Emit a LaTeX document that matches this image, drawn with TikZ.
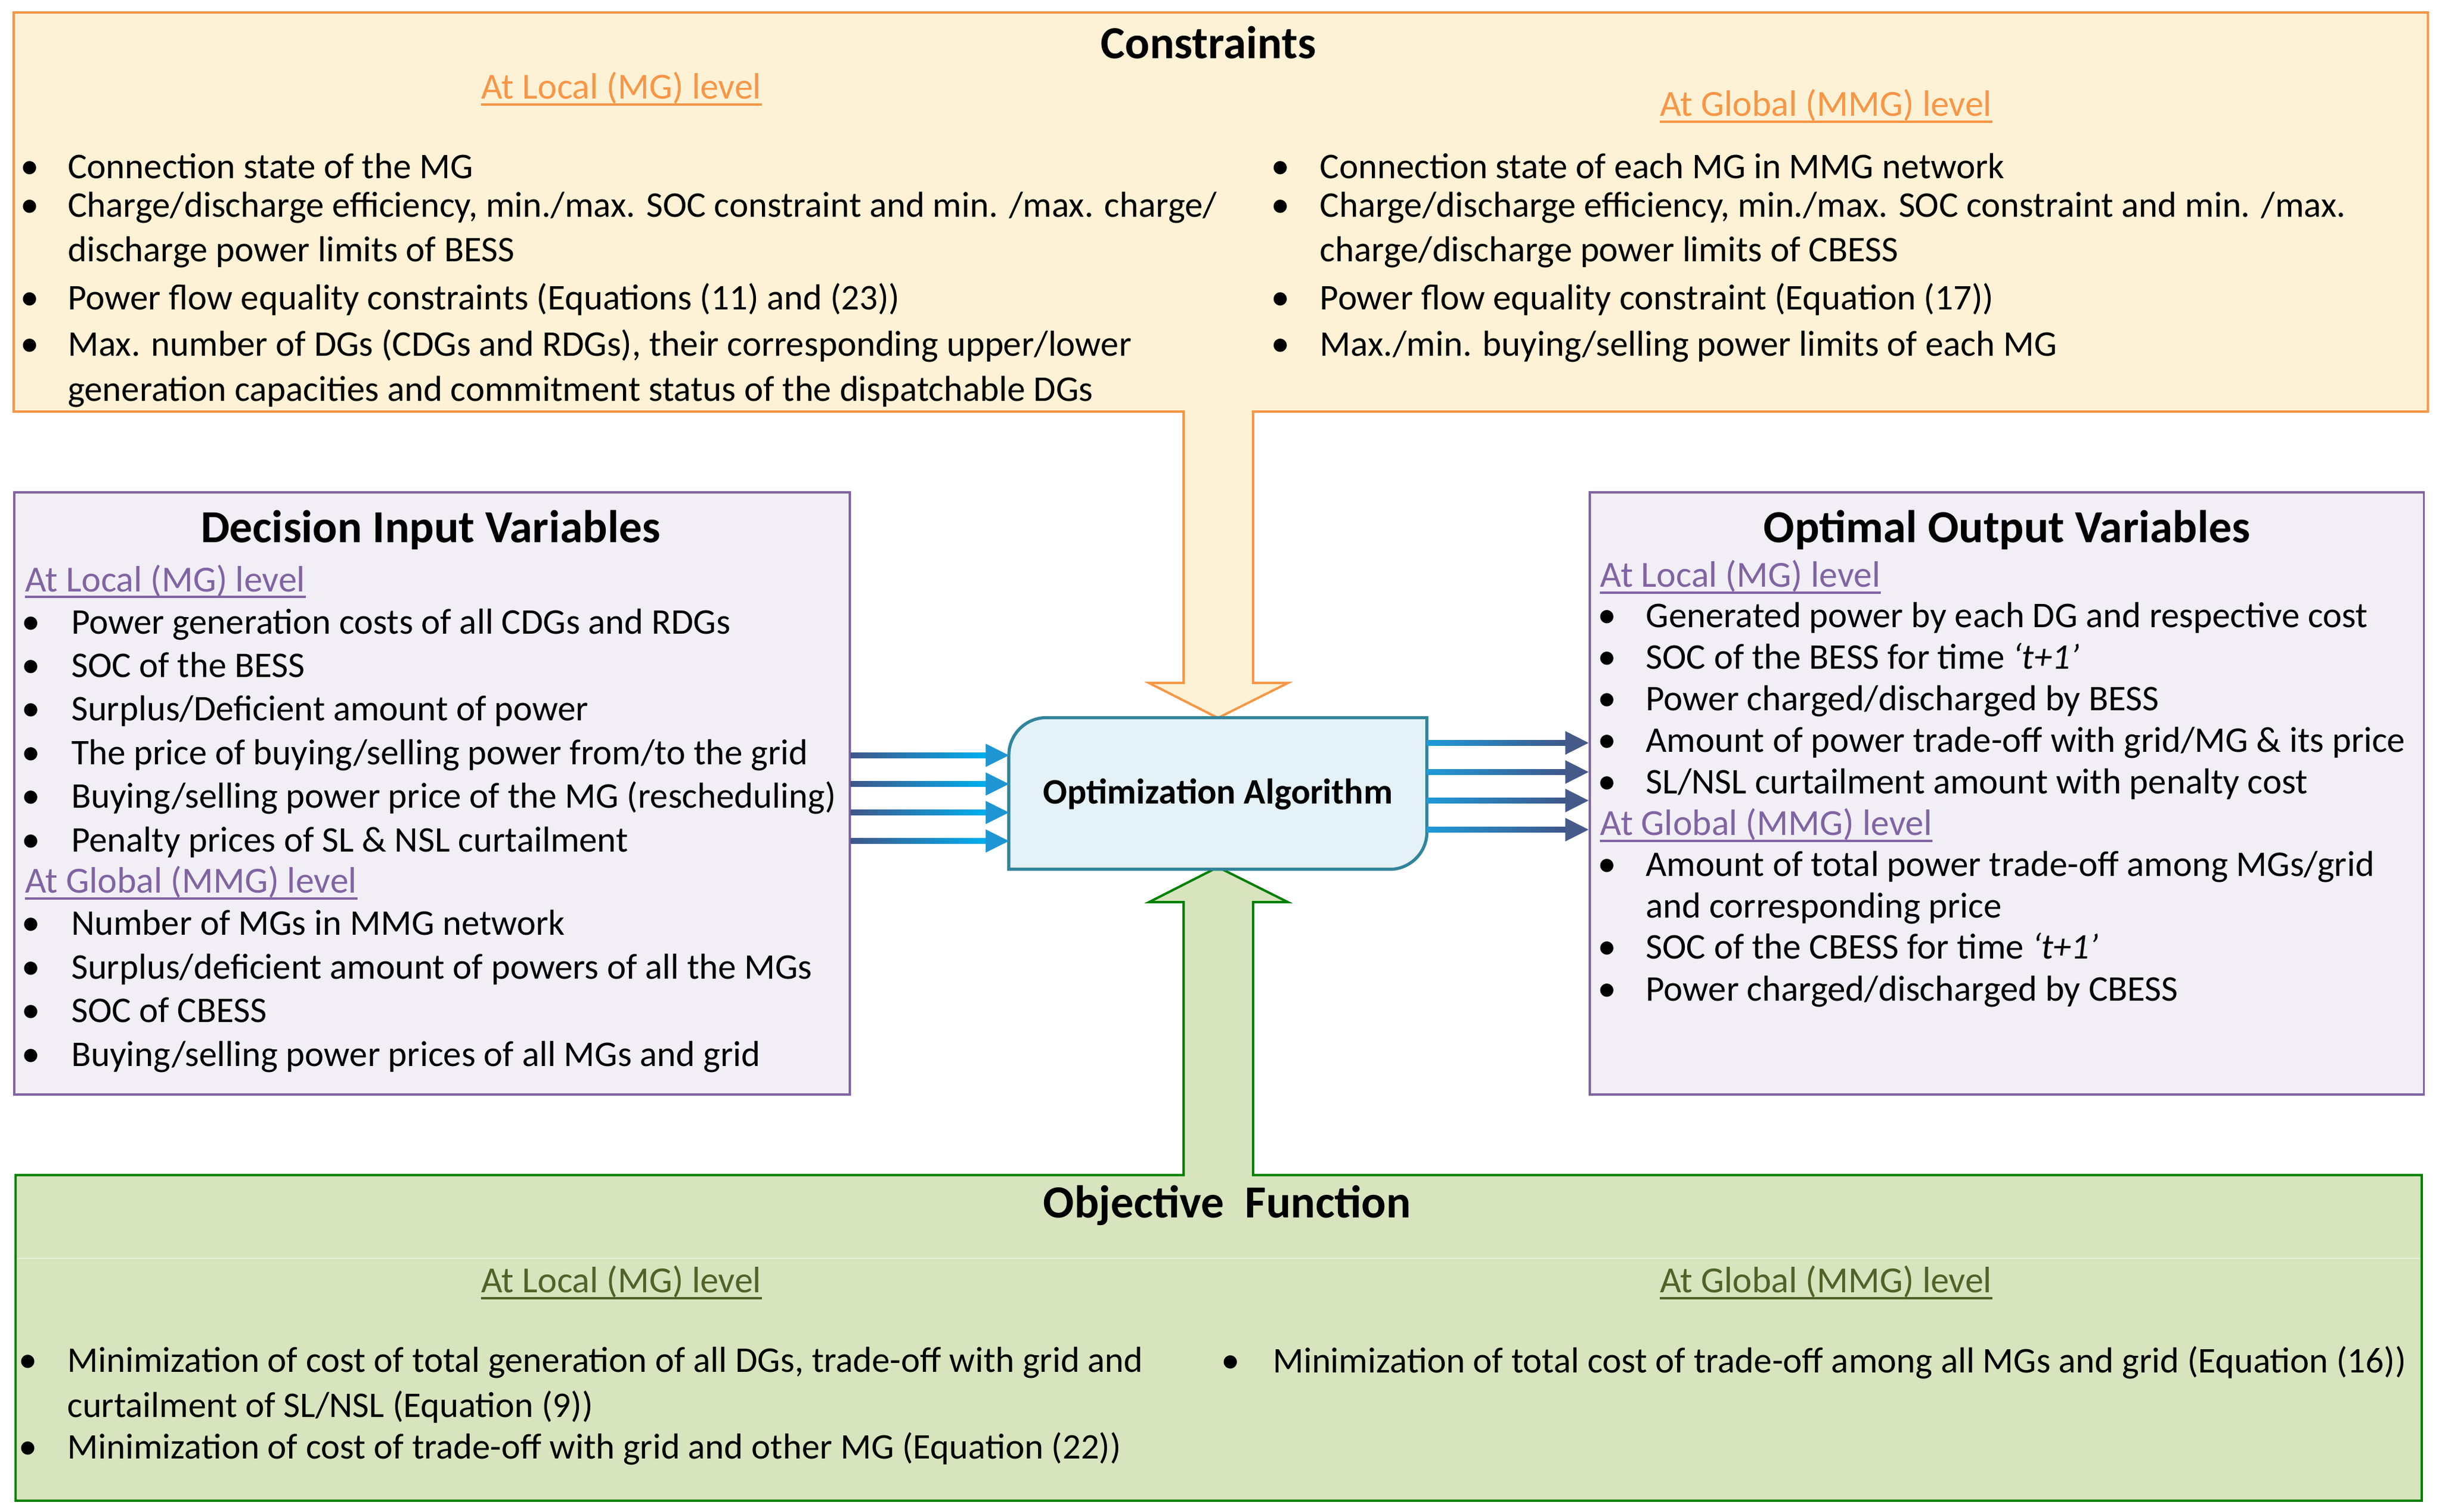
\documentclass[tikz,border=0pt]{standalone}
\usepackage{fontspec}
\setmainfont{Carlito}
\definecolor{conFill}{HTML}{FEF2D6}
\definecolor{conLine}{HTML}{F79646}
\definecolor{varFill}{HTML}{F1EEF6}
\definecolor{varLine}{HTML}{8064A2}
\definecolor{objFill}{HTML}{D7E4BD}
\definecolor{objLine}{HTML}{008000}
\definecolor{objHead}{HTML}{4F6228}
\definecolor{optFill}{HTML}{E4F2F7}
\definecolor{optLine}{HTML}{31849B}
\definecolor{arrDark}{HTML}{3F5689}
\definecolor{arrCyan}{HTML}{00B0F0}
\definecolor{arrHeadL}{HTML}{1E96D4}
\definecolor{arrHeadR}{HTML}{465A8A}
\definecolor{arrLight}{HTML}{1F9AD8}
\tikzset{
  body/.style={font=\fontsize{23.2}{28}\selectfont, inner sep=0pt, anchor=base west},
  bul/.style={font=\fontsize{24}{28}\selectfont, inner sep=0pt, anchor=base},
  ttl/.style={font=\bfseries\fontsize{29.5}{34}\selectfont, inner sep=0pt, anchor=base},
  subhd/.style={font=\fontsize{23.6}{28}\selectfont, inner sep=0pt},
  varbox/.style={draw=varLine, fill=varFill, line width=1.5pt, inner sep=0pt, anchor=north west},
  uline/.style={line width=1.5pt},
}
\newcommand\subul[2]{\draw[uline,#2] ([yshift=-3.6pt]#1.base west) -- ([yshift=-3.6pt]#1.base east);}
\begin{document}
\begin{tikzpicture}[x=1pt,y=-1pt]
\useasboundingbox (0,0) rectangle (1568,970.5);

% ---------- Constraints box with down arrow
\path[draw=conLine, fill=conFill, line width=1.5pt, line join=miter]
  (8.7,8) -- (1559,8) -- (1559,264.3) -- (804.6,264.3) -- (804.6,438.5) -- (827,438.5)
  -- (782,461) -- (737.7,438.5) -- (760,438.5) -- (760,264.3) -- (8.7,264.3) -- cycle;
\node[ttl] (ctitle) at (776,37.6) {Constraints};
\node[subhd, text=conLine, anchor=base] (cloc) at (399,63.5) {At Local (MG) level};
\subul{cloc}{conLine}
\node[subhd, text=conLine, anchor=base] (cglo) at (1172.5,74.4) {At Global (MMG) level};
\subul{cglo}{conLine}
\node[bul] (cb1) at (19,114.7) {•};
\node[body] (ct1) at (43.4,114.7) {Connection state of the MG};
\node[bul] (cb2) at (19,139.2) {•};
\node[body] (ct2) at (43.4,139.2) {Charge/discharge efficiency, min./max. SOC constraint and min. /max. charge/};
\node[body] (ct3) at (43.4,168) {discharge power limits of BESS};
\node[bul] (cb4) at (19,198.7) {•};
\node[body] (ct4) at (43.4,198.7) {Power flow equality constraints (Equations (11) and (23))};
\node[bul] (cb5) at (19,228.5) {•};
\node[body] (ct5) at (43.4,228.5) {Max. number of DGs (CDGs and RDGs), their corresponding upper/lower};
\node[body] (ct6) at (43.4,257.4) {generation capacities and commitment status of the dispatchable DGs};
\node[bul] (cr1b) at (822,114.7) {•};
\node[body] (cr1) at (847.4,114.7) {Connection state of each MG in MMG network};
\node[bul] (cr2b) at (822,139.2) {•};
\node[body] (cr2) at (847.4,139.2) {Charge/discharge efficiency, min./max. SOC constraint and min. /max.};
\node[body] (cr3) at (847.4,168) {charge/discharge power limits of CBESS};
\node[bul] (cr4b) at (822,198.7) {•};
\node[body] (cr4) at (847.4,198.7) {Power flow equality constraint (Equation (17))};
\node[bul] (cr5b) at (822,228.5) {•};
\node[body] (cr5) at (847.4,228.5) {Max./min. buying/selling power limits of each MG};

% ---------- Objective box with up arrow
\path[draw=objLine, fill=objFill, line width=1.5pt, line join=miter]
  (10,754.5) -- (760,754.5) -- (760,579.3) -- (737.7,579.3) -- (782,556.8) -- (827,579.3)
  -- (804.6,579.3) -- (804.6,754.5) -- (1555,754.5) -- (1555,963.6) -- (10,963.6) -- cycle;
\draw[objFill!55!white, line width=0.8pt] (11,808) -- (1554,808);
\node[ttl] (otitle) at (788,782) {Objective~ Function};
\node[subhd, text=objHead, anchor=base] (oloc) at (399,830) {At Local (MG) level};
\subul{oloc}{objHead}
\node[subhd, text=objHead, anchor=base] (oglo) at (1172.5,830) {At Global (MMG) level};
\subul{oglo}{objHead}
\node[bul] (ob1) at (18,881) {•};
\node[body] (ot1) at (43,881) {Minimization of cost of total generation of all DGs, trade-off with grid and};
\node[body] (ot2) at (43,910) {curtailment of SL/NSL (Equation (9))};
\node[bul] (ob3) at (18,936.8) {•};
\node[body] (ot3) at (43,936.8) {Minimization of cost of trade-off with grid and other MG (Equation (22))};
\node[bul] (orb1) at (790,881.6) {•};
\node[body] (ort1) at (817,881.6) {Minimization of total cost of trade-off among all MGs and grid (Equation (16))};

% ---------- Decision input box
\node[varbox, minimum width=536.4pt, minimum height=386.5pt] (dec) at (8.4,315.5) {};
\node[ttl] (dtitle) at (276.4,348.4) {Decision Input Variables};
\node[subhd, text=varLine, anchor=base west] (dloc) at (16,379.8) {At Local (MG) level};
\subul{dloc}{varLine}
\node[bul] (db1) at (20,406.9) {•};
\node[body] (dt1) at (45.6,406.9) {Power generation costs of all CDGs and RDGs};
\node[bul] (db2) at (20,434.9) {•};
\node[body] (dt2) at (45.6,434.9) {SOC of the BESS};
\node[bul] (db3) at (20,462.9) {•};
\node[body] (dt3) at (45.6,462.9) {Surplus/Deficient amount of power};
\node[bul] (db4) at (20,490.9) {•};
\node[body] (dt4) at (45.6,490.9) {The price of buying/selling power from/to the grid};
\node[bul] (db5) at (20,518.9) {•};
\node[body] (dt5) at (45.6,518.9) {Buying/selling power price of the MG (rescheduling)};
\node[bul] (db6) at (20,546.9) {•};
\node[body] (dt6) at (45.6,546.9) {Penalty prices of SL \& NSL curtailment};
\node[subhd, text=varLine, anchor=base west] (dglo) at (16,573.4) {At Global (MMG) level};
\subul{dglo}{varLine}
\node[bul] (db7) at (20,600.5) {•};
\node[body] (dt7) at (45.6,600.5) {Number of MGs in MMG network};
\node[bul] (db8) at (20,628.5) {•};
\node[body] (dt8) at (45.6,628.5) {Surplus/deficient amount of powers of all the MGs};
\node[bul] (db9) at (20,656.5) {•};
\node[body] (dt9) at (45.6,656.5) {SOC of CBESS};
\node[bul] (db10) at (20,684.5) {•};
\node[body] (dt10) at (45.6,684.5) {Buying/selling power prices of all MGs and grid};

% ---------- Optimal output box
\node[varbox, minimum width=535.6pt, minimum height=386.5pt] (outb) at (1020,315.5) {};
\node[ttl] (otl) at (1288.6,348.4) {Optimal Output Variables};
\node[subhd, text=varLine, anchor=base west] (uloc) at (1027.4,377) {At Local (MG) level};
\subul{uloc}{varLine}
\node[bul] (ub1) at (1032,403) {•};
\node[body] (ut1) at (1056.7,403) {Generated power by each DG and respective cost};
\node[bul] (ub2) at (1032,429.7) {•};
\node[body] (ut2) at (1056.7,429.7) {SOC of the BESS for time \textit{‘t+1’}};
\node[bul] (ub3) at (1032,456.4) {•};
\node[body] (ut3) at (1056.7,456.4) {Power charged/discharged by BESS};
\node[bul] (ub4) at (1032,483.1) {•};
\node[body] (ut4) at (1056.7,483.1) {Amount of power trade-off with grid/MG \& its price};
\node[bul] (ub5) at (1032,509.8) {•};
\node[body] (ut5) at (1056.7,509.8) {SL/NSL curtailment amount with penalty cost};
\node[subhd, text=varLine, anchor=base west] (uglo) at (1027.4,536.2) {At Global (MMG) level};
\subul{uglo}{varLine}
\node[bul] (ub6) at (1032,562.5) {•};
\node[body] (ut6) at (1056.7,562.5) {Amount of total power trade-off among MGs/grid};
\node[body] (ut7) at (1056.7,589.5) {and corresponding price};
\node[bul] (ub8) at (1032,615.8) {•};
\node[body] (ut8) at (1056.7,615.8) {SOC of the CBESS for time \textit{‘t+1’}};
\node[bul] (ub9) at (1032,642.6) {•};
\node[body] (ut9) at (1056.7,642.6) {Power charged/discharged by CBESS};

% ---------- Optimization algorithm
\node[minimum width=268pt, minimum height=97pt, inner sep=0pt] (opt) at (782,509.5) {};
\path[draw=optLine, fill=optFill, line width=2pt]
  (opt.south west) -- ([yshift=-24pt]opt.north west)
  .. controls ([yshift=-10.75pt]opt.north west) and ([xshift=10.75pt]opt.north west) .. ([xshift=24pt]opt.north west)
  -- (opt.north east) -- ([yshift=24pt]opt.south east)
  .. controls ([yshift=10.75pt]opt.south east) and ([xshift=-10.75pt]opt.south east) .. ([xshift=-24pt]opt.south east)
  -- cycle;
\node[font=\bfseries\fontsize{23}{28}\selectfont, inner sep=0pt, anchor=base] (optlabel) at (782,516) {Optimization Algorithm};

% ---------- input arrows
\foreach \yy in {485,503.4,521.7,540}{
  \coordinate (ls) at (dec.east |- 0,\yy);
  \coordinate (le) at (opt.west |- 0,\yy);
  \shade[left color=arrDark, right color=arrCyan] ([yshift=1.6pt]ls) rectangle ([xshift=-14pt,yshift=-1.6pt]le);
  \fill[arrHeadL] ([xshift=-15pt,yshift=7.5pt]le) -- (le) -- ([xshift=-15pt,yshift=-7.5pt]le) -- cycle;
}
% ---------- output arrows
\foreach \yy in {477,495.7,514,532.7}{
  \coordinate (rs) at (opt.east |- 0,\yy);
  \coordinate (re) at (outb.west |- 0,\yy);
  \shade[left color=arrLight, right color=arrDark] ([yshift=1.6pt]rs) rectangle ([xshift=-14pt,yshift=-1.6pt]re);
  \fill[arrHeadR] ([xshift=-15pt,yshift=7.6pt]re) -- (re) -- ([xshift=-15pt,yshift=-7.6pt]re) -- cycle;
}
\end{tikzpicture}
\end{document}
